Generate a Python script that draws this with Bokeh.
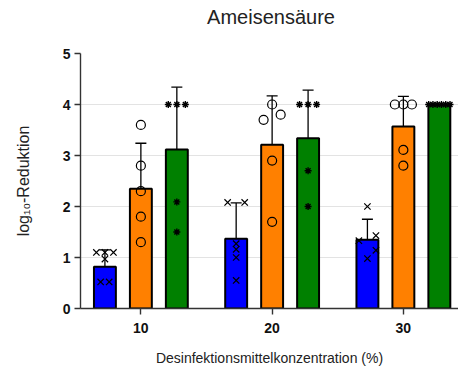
from bokeh.plotting import figure
from bokeh.models import ColumnDataSource, FixedTicker, Whisker, TeeHead, Div
from bokeh.layouts import column
from bokeh.embed import file_html
from bokeh.resources import INLINE

# ---- data ----
concentrations = [10, 20, 30]
tick_labels = {10: "10", 20: "20", 30: "30"}

series_names = ["A", "B", "C"]
series_colors = ["#0000FF", "#FF8000", "#008000"]
series_markers = ["x", "circle", "asterisk"]

means_A = [0.82, 1.37, 1.35]
sd_A = [0.33, 0.70, 0.40]
means_B = [2.35, 3.21, 3.57]
sd_B = [0.89, 0.96, 0.59]
means_C = [3.12, 3.34, 4.00]
sd_C = [1.22, 0.94, 0.00]

# individual replicate values per concentration (10, 20, 30)
points_A = [[1.1, 1.1, 1.1, 0.97, 0.52, 0.52],
            [2.08, 2.08, 1.27, 1.16, 1.0, 0.55],
            [2.0, 1.43, 1.33, 1.14, 0.98]]
points_B = [[3.6, 2.8, 2.3, 1.8, 1.3],
            [4.0, 3.8, 3.7, 2.9, 1.7],
            [4.0, 4.0, 4.0, 3.11, 2.8]]
points_C = [[4.0, 4.0, 4.0, 2.09, 1.5],
            [4.0, 4.0, 4.0, 2.7, 2.0],
            [4.0, 4.0, 4.0, 4.0, 4.0, 4.0]]
# horizontal scatter slots of the replicates (as seen in the picture)
slots_A = [[-1, 0, 1, 0, -0.5, 0.5], [-1, 1, 0, 0, 0, 0], [0, 1, -1, 1, 0]]
slots_B = [[0, 0, 0, 0, 0], [0, 1, -1, 0, 0], [-1, 0, 1, 0, 0]]
slots_C = [[-1, 0, 1, 0, 0], [-1, 0, 1, 0, 0], [-1.25, -0.75, -0.25, 0.25, 0.75, 1.25]]

title_text = "Ameisensäure"
x_label = "Desinfektionsmittelkonzentration (%)"
y_label = "log₁₀-Reduktion"

# ---- styling / layout ----
FONT = "Liberation Sans"
group_offset = 2.74
bar_width = 1.67
slot_step = 0.65
TITLE_H = 30

title_div = Div(text=title_text, width=458, height=TITLE_H, margin=0,
                styles={"font-family": FONT, "font-size": "20px", "color": "#222222",
                        "text-align": "center", "line-height": "24px",
                        "padding-top": "5px", "padding-left": "84px",
                        "box-sizing": "border-box", "display": "block"})

p = figure(width=458, height=372 - TITLE_H, output_backend="svg", toolbar_location=None,
           x_range=(5.4, 34.2), y_range=(0, 5), margin=0,
           min_border_left=80, min_border_right=0, min_border_top=53 - TITLE_H,
           min_border_bottom=64)
p.outline_line_color = None
p.background_fill_color = "white"
p.border_fill_color = "white"

all_means = [means_A, means_B, means_C]
all_sd = [sd_A, sd_B, sd_C]
all_points = [points_A, points_B, points_C]
all_slots = [slots_A, slots_B, slots_C]

for i in range(3):
    off = (i - 1) * group_offset
    xs = [c + off for c in concentrations]
    p.vbar(x=xs, top=all_means[i], width=bar_width, bottom=0,
           fill_color=series_colors[i], line_color="black", line_width=2)

for i in range(3):
    off = (i - 1) * group_offset
    px, py = [], []
    for j, c in enumerate(concentrations):
        for v, s in zip(all_points[i][j], all_slots[i][j]):
            px.append(c + off + s * slot_step)
            py.append(v)
    if series_markers[i] == "circle":
        p.scatter(px, py, marker="circle", size=9, fill_color=None,
                  line_color="black", line_width=1.2)
    elif series_markers[i] == "x":
        p.scatter(px, py, marker="x", size=9, line_color="black", line_width=1.2)
    else:
        p.scatter(px, py, marker="asterisk", size=7, line_color="black", line_width=1.4)

for i in range(3):
    off = (i - 1) * group_offset
    xs, lo, hi = [], [], []
    for j, c in enumerate(concentrations):
        if all_sd[i][j] > 0:
            xs.append(c + off)
            lo.append(all_means[i][j] - all_sd[i][j])
            hi.append(all_means[i][j] + all_sd[i][j])
    src = ColumnDataSource(dict(x=xs, lower=lo, upper=hi))
    w = Whisker(source=src, base="x", lower="lower", upper="upper",
                line_color="black", line_width=1.3,
                lower_head=TeeHead(size=11, line_color="black", line_width=1.3),
                upper_head=TeeHead(size=11, line_color="black", line_width=1.3))
    p.add_layout(w)

# axes
p.xgrid.grid_line_color = None
p.ygrid.grid_line_color = "#e3e3e3"
p.ygrid.grid_line_width = 1.2
p.ygrid.ticker = FixedTicker(ticks=[1, 2, 3, 4, 5])

p.xaxis.ticker = FixedTicker(ticks=concentrations)
p.xaxis.major_label_overrides = tick_labels
p.yaxis.ticker = FixedTicker(ticks=[0, 1, 2, 3, 4, 5])

for ax in (p.xaxis[0], p.yaxis[0]):
    ax.axis_line_color = "#333333"
    ax.axis_line_width = 1.4
    ax.major_tick_line_color = "#333333"
    ax.major_tick_line_width = 1.4
    ax.major_tick_out = 6
    ax.major_tick_in = 0
    ax.minor_tick_line_color = None
    ax.major_label_text_font = FONT
    ax.major_label_text_font_style = "bold"
    ax.major_label_text_font_size = "14px"
    ax.major_label_text_color = "#111111"
    ax.axis_label_text_font = FONT
    ax.axis_label_text_font_style = "normal"
    ax.axis_label_text_color = "#222222"

p.xaxis.axis_label_text_font_size = "14px"
p.yaxis.axis_label_text_font_size = "16px"
p.xaxis.major_label_standoff = 8
p.xaxis.axis_label = x_label
p.xaxis.axis_label_standoff = 14
p.yaxis.major_label_standoff = 4
p.yaxis.axis_label = y_label
p.yaxis.axis_label_standoff = 28

layout = column(title_div, p, spacing=0, margin=0)
open("out.html", "w").write(file_html(layout, INLINE))
